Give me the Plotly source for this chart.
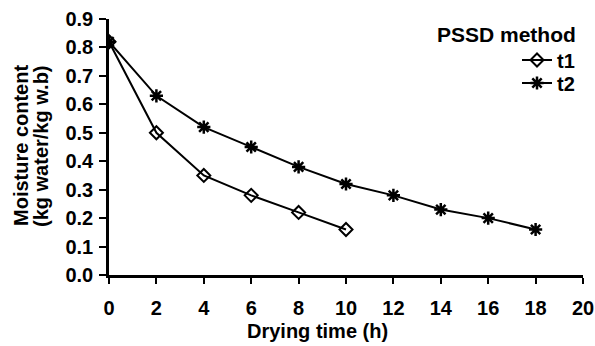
import plotly.graph_objects as go

time_t1 = [0, 2, 4, 6, 8, 10]
mc_t1 = [0.82, 0.50, 0.35, 0.28, 0.22, 0.16]
time_t2 = [0, 2, 4, 6, 8, 10, 12, 14, 16, 18]
mc_t2 = [0.82, 0.63, 0.52, 0.45, 0.38, 0.32, 0.28, 0.23, 0.20, 0.16]

x_ticks = [0, 2, 4, 6, 8, 10, 12, 14, 16, 18, 20]
y_ticks = [0.0, 0.1, 0.2, 0.3, 0.4, 0.5, 0.6, 0.7, 0.8, 0.9]

FONT = "Liberation Sans, Arial, sans-serif"
W, H = 595, 346
L, R, T, B = 109, 12, 19, 71
PW, PH = W - L - R, H - T - B


def px_x(p):
    return (p - L) / PW


def px_y(p):
    return (H - B - p) / PH


fig = go.Figure()
fig.add_trace(go.Scatter(
    x=time_t1, y=mc_t1, name="<b>t1</b>", mode="lines+markers",
    line=dict(color="black", width=2),
    marker=dict(symbol="diamond-open", size=10, color="black", line=dict(width=2)),
    legend="legend",
))
fig.add_trace(go.Scatter(
    x=time_t2, y=mc_t2, name="<b>t2</b>", mode="lines+markers",
    line=dict(color="black", width=2),
    marker=dict(symbol="asterisk-open", size=11, color="black", line=dict(width=2.5, color="black")),
    legend="legend2",
))

leg_common = dict(xanchor="right", yanchor="middle", bgcolor="rgba(0,0,0,0)",
                  font=dict(size=20), itemwidth=30, tracegroupgap=0)

fig.update_layout(
    width=W, height=H,
    margin=dict(l=L, r=R, t=T, b=B, autoexpand=False),
    paper_bgcolor="white", plot_bgcolor="white",
    font=dict(family=FONT, size=19, color="black"),
    showlegend=True,
    legend=dict(x=px_x(580), y=px_y(60), **leg_common),
    legend2=dict(x=px_x(580), y=px_y(83), **leg_common),
    xaxis=dict(
        range=[0, 20], tickvals=x_ticks, ticktext=[f"<b>{v}</b>" for v in x_ticks],
        showline=True, linecolor="black", linewidth=2.5,
        ticks="outside", ticklen=6, tickwidth=2, tickcolor="black",
        showgrid=False, zeroline=False, automargin=False,
        tickfont=dict(size=20), ticklabelstandoff=7,
    ),
    yaxis=dict(
        range=[0, 0.9], tickvals=y_ticks, ticktext=[f"<b>{v:.1f}</b>" for v in y_ticks],
        showline=True, linecolor="black", linewidth=2.5,
        ticks="outside", ticklen=7, tickwidth=2, tickcolor="black",
        showgrid=False, zeroline=False, automargin=False,
        tickfont=dict(size=20), ticklabelstandoff=2,
    ),
    annotations=[
        dict(text="<b>Drying time (h)</b>", xref="paper", yref="paper",
             x=px_x(317), y=px_y(331), xanchor="center", yanchor="middle",
             showarrow=False, font=dict(size=20)),
        dict(text="<b>Moisture content</b>", xref="paper", yref="paper",
             x=px_x(21), y=px_y(146), xanchor="center", yanchor="middle",
             textangle=-90, showarrow=False, font=dict(size=20)),
        dict(text="<b>(kg water/kg w.b)</b>", xref="paper", yref="paper",
             x=px_x(41), y=px_y(146), xanchor="center", yanchor="middle",
             textangle=-90, showarrow=False, font=dict(size=20)),
        dict(text="<b>PSSD method</b>", xref="paper", yref="paper",
             x=px_x(578), y=px_y(34), xanchor="right", yanchor="middle",
             showarrow=False, font=dict(size=21)),
    ],
)

fig.write_html("out.html", config={"displayModeBar": False},
               post_script="document.body.style.margin='0';")
